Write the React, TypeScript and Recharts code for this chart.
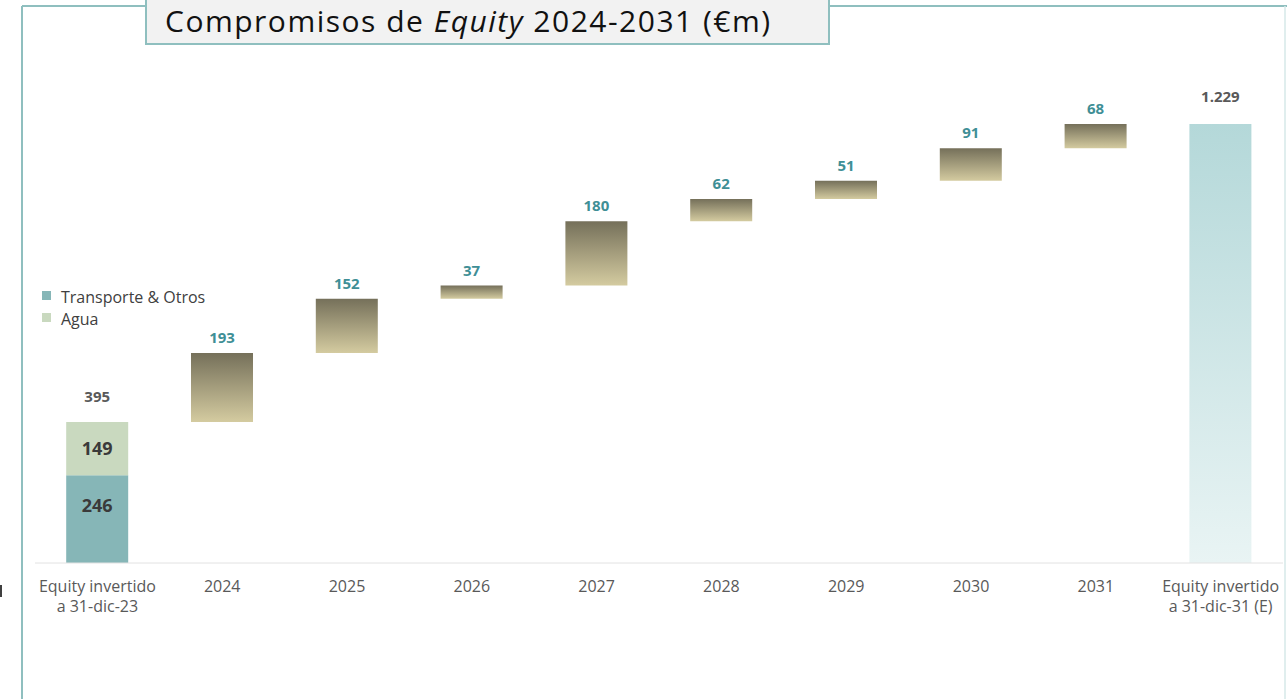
import React from "react";
import { ComposedChart, Bar, XAxis, YAxis, LabelList } from "recharts";

const categories = [
  "Equity invertido|a 31-dic-23",
  "2024",
  "2025",
  "2026",
  "2027",
  "2028",
  "2029",
  "2030",
  "2031",
  "Equity invertido|a 31-dic-31 (E)",
];
const transporteValues = [246, 0, 0, 0, 0, 0, 0, 0, 0, 0];
const aguaValues = [149, 0, 0, 0, 0, 0, 0, 0, 0, 0];
const deltaValues = [0, 193, 152, 37, 180, 62, 51, 91, 68, 0];
const totalValues = [0, 0, 0, 0, 0, 0, 0, 0, 0, 1229];
const legendLabels = ["Transporte & Otros", "Agua"];

const FONT = "'Open Sans', 'Noto Sans', sans-serif";
const TEAL_TEXT = "#3f8f96";
const GREY_TEXT = "#595959";
const TRANSPORTE_COLOR = "#86b6b7";
const AGUA_COLOR = "#c9d9bf";

const data = (() => {
  let running = 0;
  return categories.map((c, i) => {
    const start = transporteValues[i] + aguaValues[i];
    const base = deltaValues[i] > 0 ? running : 0;
    running += start + deltaValues[i];
    return {
      name: c,
      base,
      transporte: transporteValues[i],
      agua: aguaValues[i],
      delta: deltaValues[i],
      total: totalValues[i],
      stackTotal: start,
    };
  });
})();

const fmt = (v: number) => v.toLocaleString("de-DE");

const CategoryTick = (props: any) => {
  const { x, y, payload } = props;
  const lines = String(payload.value).split("|");
  return (
    <text x={x} y={y} textAnchor="middle" fill={GREY_TEXT} fontSize={16} fontFamily={FONT}>
      {lines.map((l, i) => (
        <tspan key={i} x={x} dy={i === 0 ? 21 : 20}>
          {l}
        </tspan>
      ))}
    </text>
  );
};

const DeltaLabel = (props: any) => {
  const { x, y, width, value } = props;
  if (!value) return null;
  return (
    <text x={x + width / 2} y={y - 10} textAnchor="middle" fill={TEAL_TEXT} fontSize={15} fontWeight={700} fontFamily={FONT}>
      {fmt(value)}
    </text>
  );
};

const AguaLabel = (props: any) => {
  const { x, y, width, height, value, index } = props;
  if (!value) return null;
  return (
    <g>
      <text x={x + width / 2} y={y + height / 2 + 6.5} textAnchor="middle" fill="#3a3a3a" fontSize={18} fontWeight={700} fontFamily={FONT}>
        {fmt(value)}
      </text>
      <text x={x + width / 2} y={y - 20} textAnchor="middle" fill={GREY_TEXT} fontSize={15} fontWeight={700} fontFamily={FONT}>
        {fmt(data[index].stackTotal)}
      </text>
    </g>
  );
};

const TransporteLabel = (props: any) => {
  const { x, y, width, value } = props;
  if (!value) return null;
  return (
    <text x={x + width / 2} y={y + 37} textAnchor="middle" fill="#3a3a3a" fontSize={18} fontWeight={700} fontFamily={FONT}>
      {fmt(value)}
    </text>
  );
};

const TotalLabel = (props: any) => {
  const { x, y, width, value } = props;
  if (!value) return null;
  return (
    <text x={x + width / 2} y={y - 22} textAnchor="middle" fill={GREY_TEXT} fontSize={15} fontWeight={700} fontFamily={FONT}>
      {fmt(value)}
    </text>
  );
};

const legendItems = [
  { label: legendLabels[0], color: TRANSPORTE_COLOR },
  { label: legendLabels[1], color: AGUA_COLOR },
];

export default function App() {
  return (
    <div style={{ position: "absolute", left: 0, top: 0, width: 1287, height: 699, background: "#fff", overflow: "hidden" }}>
      <svg width={1287} height={699} style={{ position: "absolute", left: 0, top: 0 }}>
        <line x1={22} y1={6} x2={22} y2={699} stroke="#8fbfbf" strokeWidth={2} />
        <line x1={22} y1={6} x2={1287} y2={6} stroke="#8fbfbf" strokeWidth={2} />
        <line x1={1285} y1={6} x2={1285} y2={699} stroke="#d6e8e8" strokeWidth={1.5} />
        <rect x={-1} y={585} width={3} height={12} fill="#404040" />
      </svg>
      <div style={{ position: "absolute", left: 0, top: 0 }}>
        <ComposedChart
          width={1287}
          height={699}
          data={data}
          margin={{ top: 63, right: 4, bottom: 96, left: 35 }}
          barCategoryGap="25%"
        >
          <defs>
            <linearGradient id="deltaGrad" x1="0" y1="0" x2="0" y2="1">
              <stop offset="0%" stopColor="#75705a" />
              <stop offset="100%" stopColor="#d4cba0" />
            </linearGradient>
            <linearGradient id="totalGrad" x1="0" y1="0" x2="0" y2="1">
              <stop offset="0%" stopColor="#b4d8d9" />
              <stop offset="100%" stopColor="#e9f4f4" />
            </linearGradient>
          </defs>
          <XAxis
            dataKey="name"
            interval={0}
            tickLine={false}
            axisLine={{ stroke: "#e2e2e2", strokeWidth: 1 }}
            tick={<CategoryTick />}
            height={40}
          />
          <YAxis hide domain={[0, 1400]} />
          <Bar dataKey="base" stackId="a" fill="transparent" isAnimationActive={false} />
          <Bar dataKey="transporte" stackId="a" fill={TRANSPORTE_COLOR} isAnimationActive={false}>
            <LabelList dataKey="transporte" content={<TransporteLabel />} />
          </Bar>
          <Bar dataKey="agua" stackId="a" fill={AGUA_COLOR} isAnimationActive={false}>
            <LabelList dataKey="agua" content={<AguaLabel />} />
          </Bar>
          <Bar dataKey="delta" stackId="a" fill="url(#deltaGrad)" isAnimationActive={false}>
            <LabelList dataKey="delta" content={<DeltaLabel />} />
          </Bar>
          <Bar dataKey="total" stackId="a" fill="url(#totalGrad)" isAnimationActive={false}>
            <LabelList dataKey="total" content={<TotalLabel />} />
          </Bar>
        </ComposedChart>
      </div>
      <div style={{ position: "absolute", left: 42, top: 286, fontFamily: FONT, fontSize: 16, color: "#404040", lineHeight: "22px" }}>
        {legendItems.map((it) => (
          <div key={it.label} style={{ display: "flex", alignItems: "center", whiteSpace: "nowrap" }}>
            <span style={{ display: "inline-block", width: 9, height: 9, background: it.color, marginRight: 10, marginTop: -4 }} />
            <span>{it.label}</span>
          </div>
        ))}
      </div>
      <div
        style={{
          position: "absolute",
          left: 145,
          top: -2,
          width: 685,
          height: 47,
          boxSizing: "border-box",
          background: "#f2f2f2",
          border: "2px solid #8fbfbf",
          fontFamily: FONT,
          fontSize: 30,
          letterSpacing: 1.5,
          color: "#111",
          lineHeight: "41px",
          paddingLeft: 18,
          whiteSpace: "nowrap",
        }}
      >
        Compromisos de <i>Equity</i> 2024-2031 (€m)
      </div>
    </div>
  );
}
